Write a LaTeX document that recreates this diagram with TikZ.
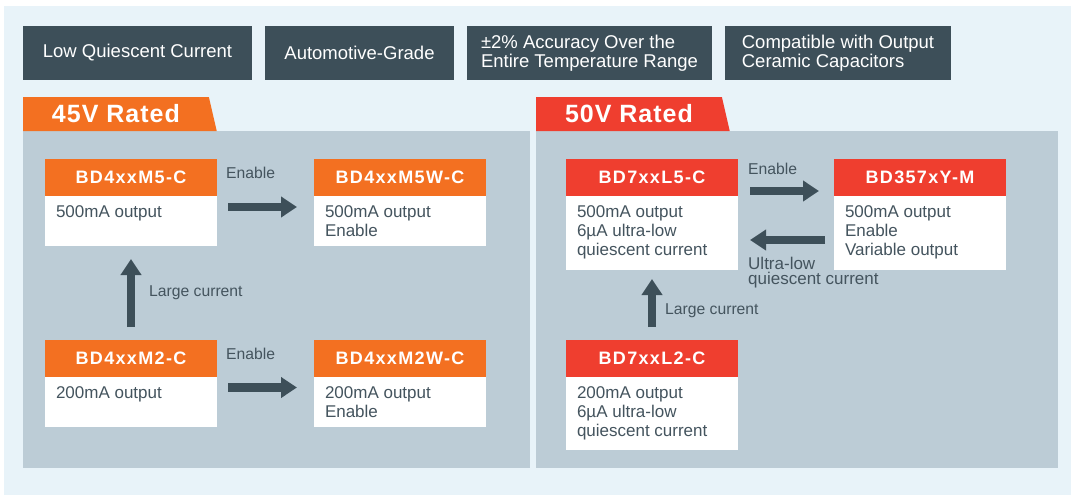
\documentclass[tikz,border=0pt]{standalone}
\usepackage{fontspec}
\setmainfont{Liberation Sans}
\newfontfamily\headfont[LetterSpace=7.5]{Liberation Sans}
\newfontfamily\ratedfont[LetterSpace=4]{Liberation Sans}
\usetikzlibrary{positioning,arrows.meta,shapes.geometric}
\definecolor{skyback}{HTML}{E8F3F9}
\definecolor{panelgrey}{HTML}{BCCCD6}
\definecolor{slate}{HTML}{3D4F59}
\definecolor{rohmorange}{HTML}{F37021}
\definecolor{rohmred}{HTML}{EF3E2F}
\definecolor{bodytext}{HTML}{44545E}
\newcommand{\bodylines}[2]{\parbox[t][#1][t]{150pt}{\raggedright\fontsize{17}{19}\selectfont #2}}

\begin{document}
\begin{tikzpicture}[x=1pt,y=-1pt]
    \tikzset{feature/.style={fill=slate,text=white,font=\fontsize{18.5}{19}\selectfont,
        minimum height=54pt,inner sep=0pt,outer sep=0pt,align=left,anchor=north west},
    head/.style={fill=#1,text=white,font=\headfont\bfseries\fontsize{18}{20}\selectfont,
        minimum width=172pt,minimum height=37pt,inner sep=0pt,outer sep=0pt,anchor=north west},
    body/.style={fill=white,text=bodytext,inner xsep=11pt,inner ysep=10pt,outer sep=0pt},
    ratedtab/.style={trapezium,trapezium left angle=90,trapezium right angle=73.6,
        trapezium stretches=true,minimum width=194pt,minimum height=34pt,inner sep=0pt,
        outer sep=0pt,anchor=bottom left corner,text=white,
        font=\ratedfont\bfseries\fontsize{25}{26}\selectfont},
    note/.style={text=bodytext,font=\fontsize{15.7}{16}\selectfont,inner sep=0pt,anchor=west},
    fatarrow/.style={draw=slate,line width=8.5pt,-{Triangle[length=16pt,width=20pt]}}}
    \useasboundingbox (0,0) rectangle (1071,495);
    \fill[skyback] (4,6) rectangle (1071,495);
    \fill[panelgrey] (23,131) rectangle (530,468);
    \fill[panelgrey] (536,131) rectangle (1058,468);
    \node[feature,minimum width=229pt] (f1) at (23,26) {Low Quiescent Current};
    \node[feature,minimum width=189pt,right=13pt of f1] (f2) {Automotive-Grade};
    \node[feature,minimum width=245pt,right=13pt of f2] (f3) {±2\% Accuracy Over the\\Entire Temperature Range};
    \node[feature,minimum width=226pt,right=13pt of f3] (f4) {Compatible with Output\\Ceramic Capacitors};
    \node[ratedtab,fill=rohmorange] (r45) at (23,131) {45V Rated};
    \node[ratedtab,fill=rohmred] (r50) at (536,131) {50V Rated};
    \node[head=rohmorange] (M5) at (45,159) {BD4xxM5-C};
    \node[body,below=0pt of M5] (M5b) {\bodylines{30pt}{500mA output}};
    \node[head=rohmorange] (M5W) at (314,159) {BD4xxM5W-C};
    \node[body,below=0pt of M5W] (M5Wb) {\bodylines{30pt}{500mA output\\Enable}};
    \node[head=rohmorange] (M2) at (45,340) {BD4xxM2-C};
    \node[body,below=0pt of M2] (M2b) {\bodylines{30pt}{200mA output}};
    \node[head=rohmorange] (M2W) at (314,340) {BD4xxM2W-C};
    \node[body,below=0pt of M2W] (M2Wb) {\bodylines{30pt}{200mA output\\Enable}};
    \node[head=rohmred] (L5) at (566,159) {BD7xxL5-C};
    \node[body,below=0pt of L5] (L5b) {\bodylines{54pt}{500mA output\\6µA ultra-low\\quiescent current}};
    \node[head=rohmred] (Y) at (834,159) {BD357xY-M};
    \node[body,below=0pt of Y] (Yb) {\bodylines{54pt}{500mA output\\Enable\\Variable output}};
    \node[head=rohmred] (L2) at (566,340) {BD7xxL2-C};
    \node[body,below=0pt of L2] (L2b) {\bodylines{53pt}{200mA output\\6µA ultra-low\\quiescent current}};
    \draw[fatarrow,shorten <=11pt,shorten >=17pt] ([yshift=-11pt]M5.south east) -- ([yshift=-11pt]M5W.south west);
    \draw[fatarrow,shorten <=11pt,shorten >=17pt] ([yshift=-10.5pt]M2.south east) -- ([yshift=-10.5pt]M2W.south west);
    \draw[fatarrow,shorten <=13pt,shorten >=13pt] (M2.north) -- (M5b.south);
    \draw[fatarrow,shorten <=12pt,shorten >=15pt] ([yshift=5pt]L5.south east) -- ([yshift=5pt]Y.south west);
    \draw[fatarrow,shorten <=9pt,shorten >=12pt] ([yshift=-44pt]Y.south west) -- ([yshift=-44pt]L5.south east);
    \draw[fatarrow,shorten <=13pt,shorten >=9pt] (L2.north) -- (L5b.south);
    \node[note] (en1) at ([xshift=9pt,yshift=4.5pt]M5.east) {Enable};
    \node[note] (en2) at ([xshift=9pt,yshift=4.5pt]M2.east) {Enable};
    \node[note] (lc1) at ([xshift=18pt,yshift=-47pt]M5b.south) {Large current};
    \node[note] (en3) at ([xshift=10pt,yshift=8.5pt]L5.east) {Enable};
    \node[note,font=\fontsize{17}{15.5}\selectfont,align=left] (ul) at ([xshift=10pt,yshift=-39.5pt]L5b.east) {Ultra-low\\quiescent current};
    \node[note] (lc2) at ([xshift=13pt,yshift=-41pt]L5b.south) {Large current};
\end{tikzpicture}
\end{document}
